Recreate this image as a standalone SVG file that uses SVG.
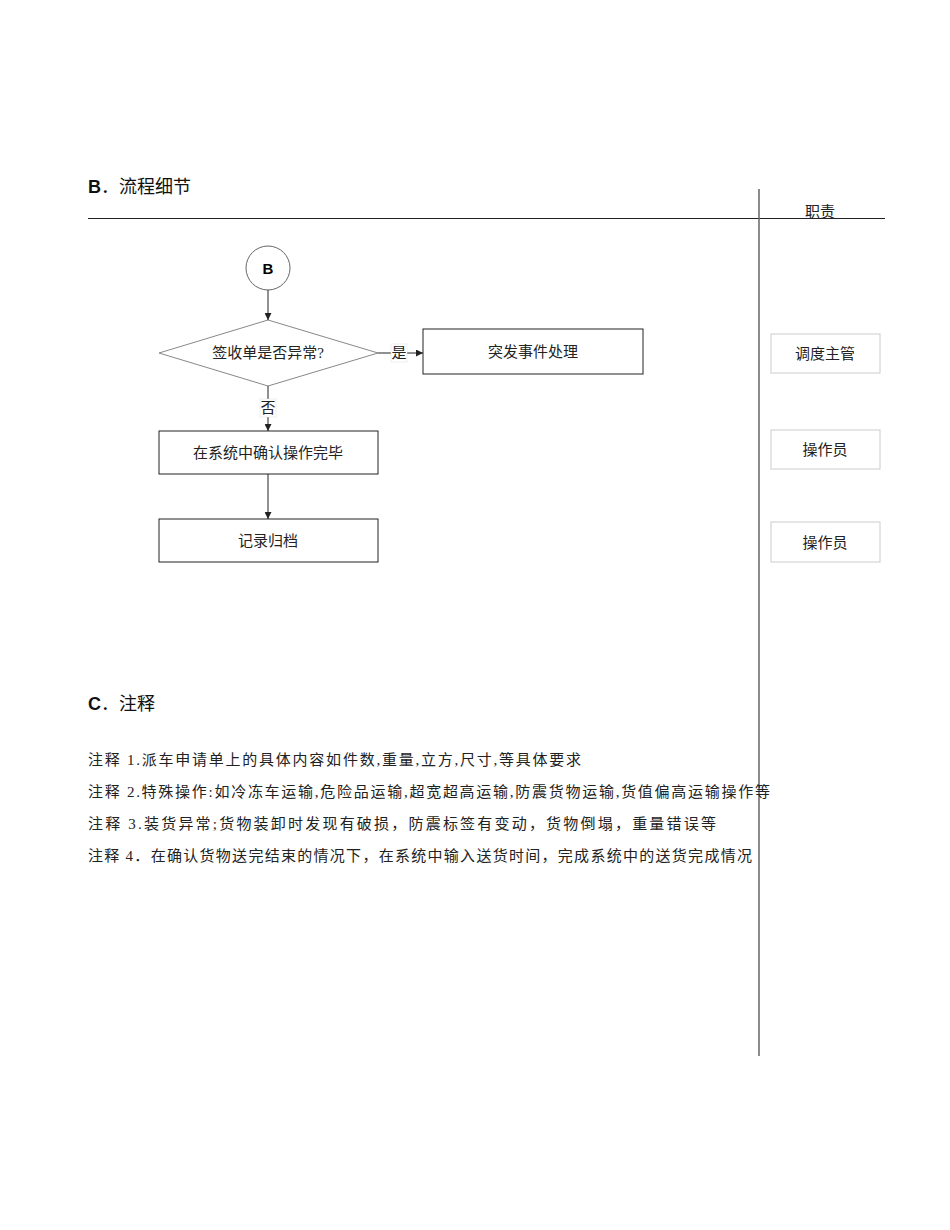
<svg xmlns="http://www.w3.org/2000/svg" width="950" height="1230" viewBox="0 0 950 1230">
<style>
.t{font-family:"Liberation Serif","Noto Sans CJK SC",serif;font-size:15px;fill:#222}
.h{font-family:"Liberation Sans","Noto Sans CJK SC",sans-serif;font-size:18px;fill:#111}
.n{fill:#fff;stroke:#222;stroke-width:1}
.r{fill:#fff;stroke:#ccc;stroke-width:1}
.c{stroke:#222;stroke-width:1;fill:none;marker-end:url(#a)}
</style>
<defs><marker id="a" viewBox="0 0 10 10" refX="10" refY="5" markerWidth="7" markerHeight="7" orient="auto"><path d="M0,0L10,5L0,10z" fill="#222"/></marker></defs>
<rect width="950" height="1230" fill="#fff"/>
<text x="88" y="193" class="h"><tspan font-weight="bold">B</tspan>．流程细节</text>
<line x1="88" y1="218.5" x2="885" y2="218.5" stroke="#222"/>
<line x1="759" y1="189" x2="759" y2="1056" stroke="#666" stroke-width="1.5"/>
<text x="820" y="217" class="t" text-anchor="middle">职责</text>
<g id="start"><circle cx="268" cy="268" r="22" fill="#fff" stroke="#666"/><text x="268" y="274" text-anchor="middle" font-family="Liberation Sans,sans-serif" font-weight="bold" font-size="15">B</text></g>
<g id="decision"><polygon points="268,320 378,353 268,386 159,353" fill="#fff" stroke="#888"/><text x="268" y="358" class="t" text-anchor="middle">签收单是否异常?</text></g>
<g id="emergency"><rect x="423" y="329" width="220" height="45" class="n"/><text x="533" y="357" class="t" text-anchor="middle">突发事件处理</text></g>
<g id="confirm"><rect x="159" y="431" width="219" height="43" class="n"/><text x="268" y="458" class="t" text-anchor="middle">在系统中确认操作完毕</text></g>
<g id="archive"><rect x="159" y="519" width="219" height="43" class="n"/><text x="268" y="546" class="t" text-anchor="middle">记录归档</text></g>
<g id="connectors">
<line x1="268" y1="290" x2="268" y2="320" class="c"/>
<line x1="378" y1="353" x2="423" y2="353" class="c"/>
<line x1="268" y1="386" x2="268" y2="431" class="c"/>
<line x1="268" y1="474" x2="268" y2="519" class="c"/>
<rect x="391" y="344" width="16" height="18" fill="#fff" stroke="#ddd" stroke-width="0.5"/>
<text x="399" y="358" class="t" text-anchor="middle">是</text>
<rect x="260" y="399" width="16" height="18" fill="#fff" stroke="#ddd" stroke-width="0.5"/>
<text x="268" y="413" class="t" text-anchor="middle">否</text>
</g>
<g id="roles">
<rect x="771" y="334" width="109" height="39" class="r"/><text x="825" y="359" class="t" text-anchor="middle">调度主管</text>
<rect x="771" y="430" width="109" height="39" class="r"/><text x="825" y="455" class="t" text-anchor="middle">操作员</text>
<rect x="771" y="522" width="109" height="40" class="r"/><text x="825" y="548" class="t" text-anchor="middle">操作员</text>
</g>
<text x="88" y="710" class="h"><tspan font-weight="bold">C</tspan>．注释</text>
<text x="88" y="765" class="t" textLength="493" lengthAdjust="spacing">注释 1.派车申请单上的具体内容如件数,重量,立方,尺寸,等具体要求</text>
<text x="88" y="797" class="t" textLength="682" lengthAdjust="spacing">注释 2.特殊操作:如冷冻车运输,危险品运输,超宽超高运输,防震货物运输,货值偏高运输操作等</text>
<text x="88" y="829" class="t" textLength="628" lengthAdjust="spacing">注释 3.装货异常;货物装卸时发现有破损，防震标签有变动，货物倒塌，重量错误等</text>
<text x="88" y="861" class="t" textLength="664" lengthAdjust="spacing">注释 4．在确认货物送完结束的情况下，在系统中输入送货时间，完成系统中的送货完成情况</text>
</svg>
